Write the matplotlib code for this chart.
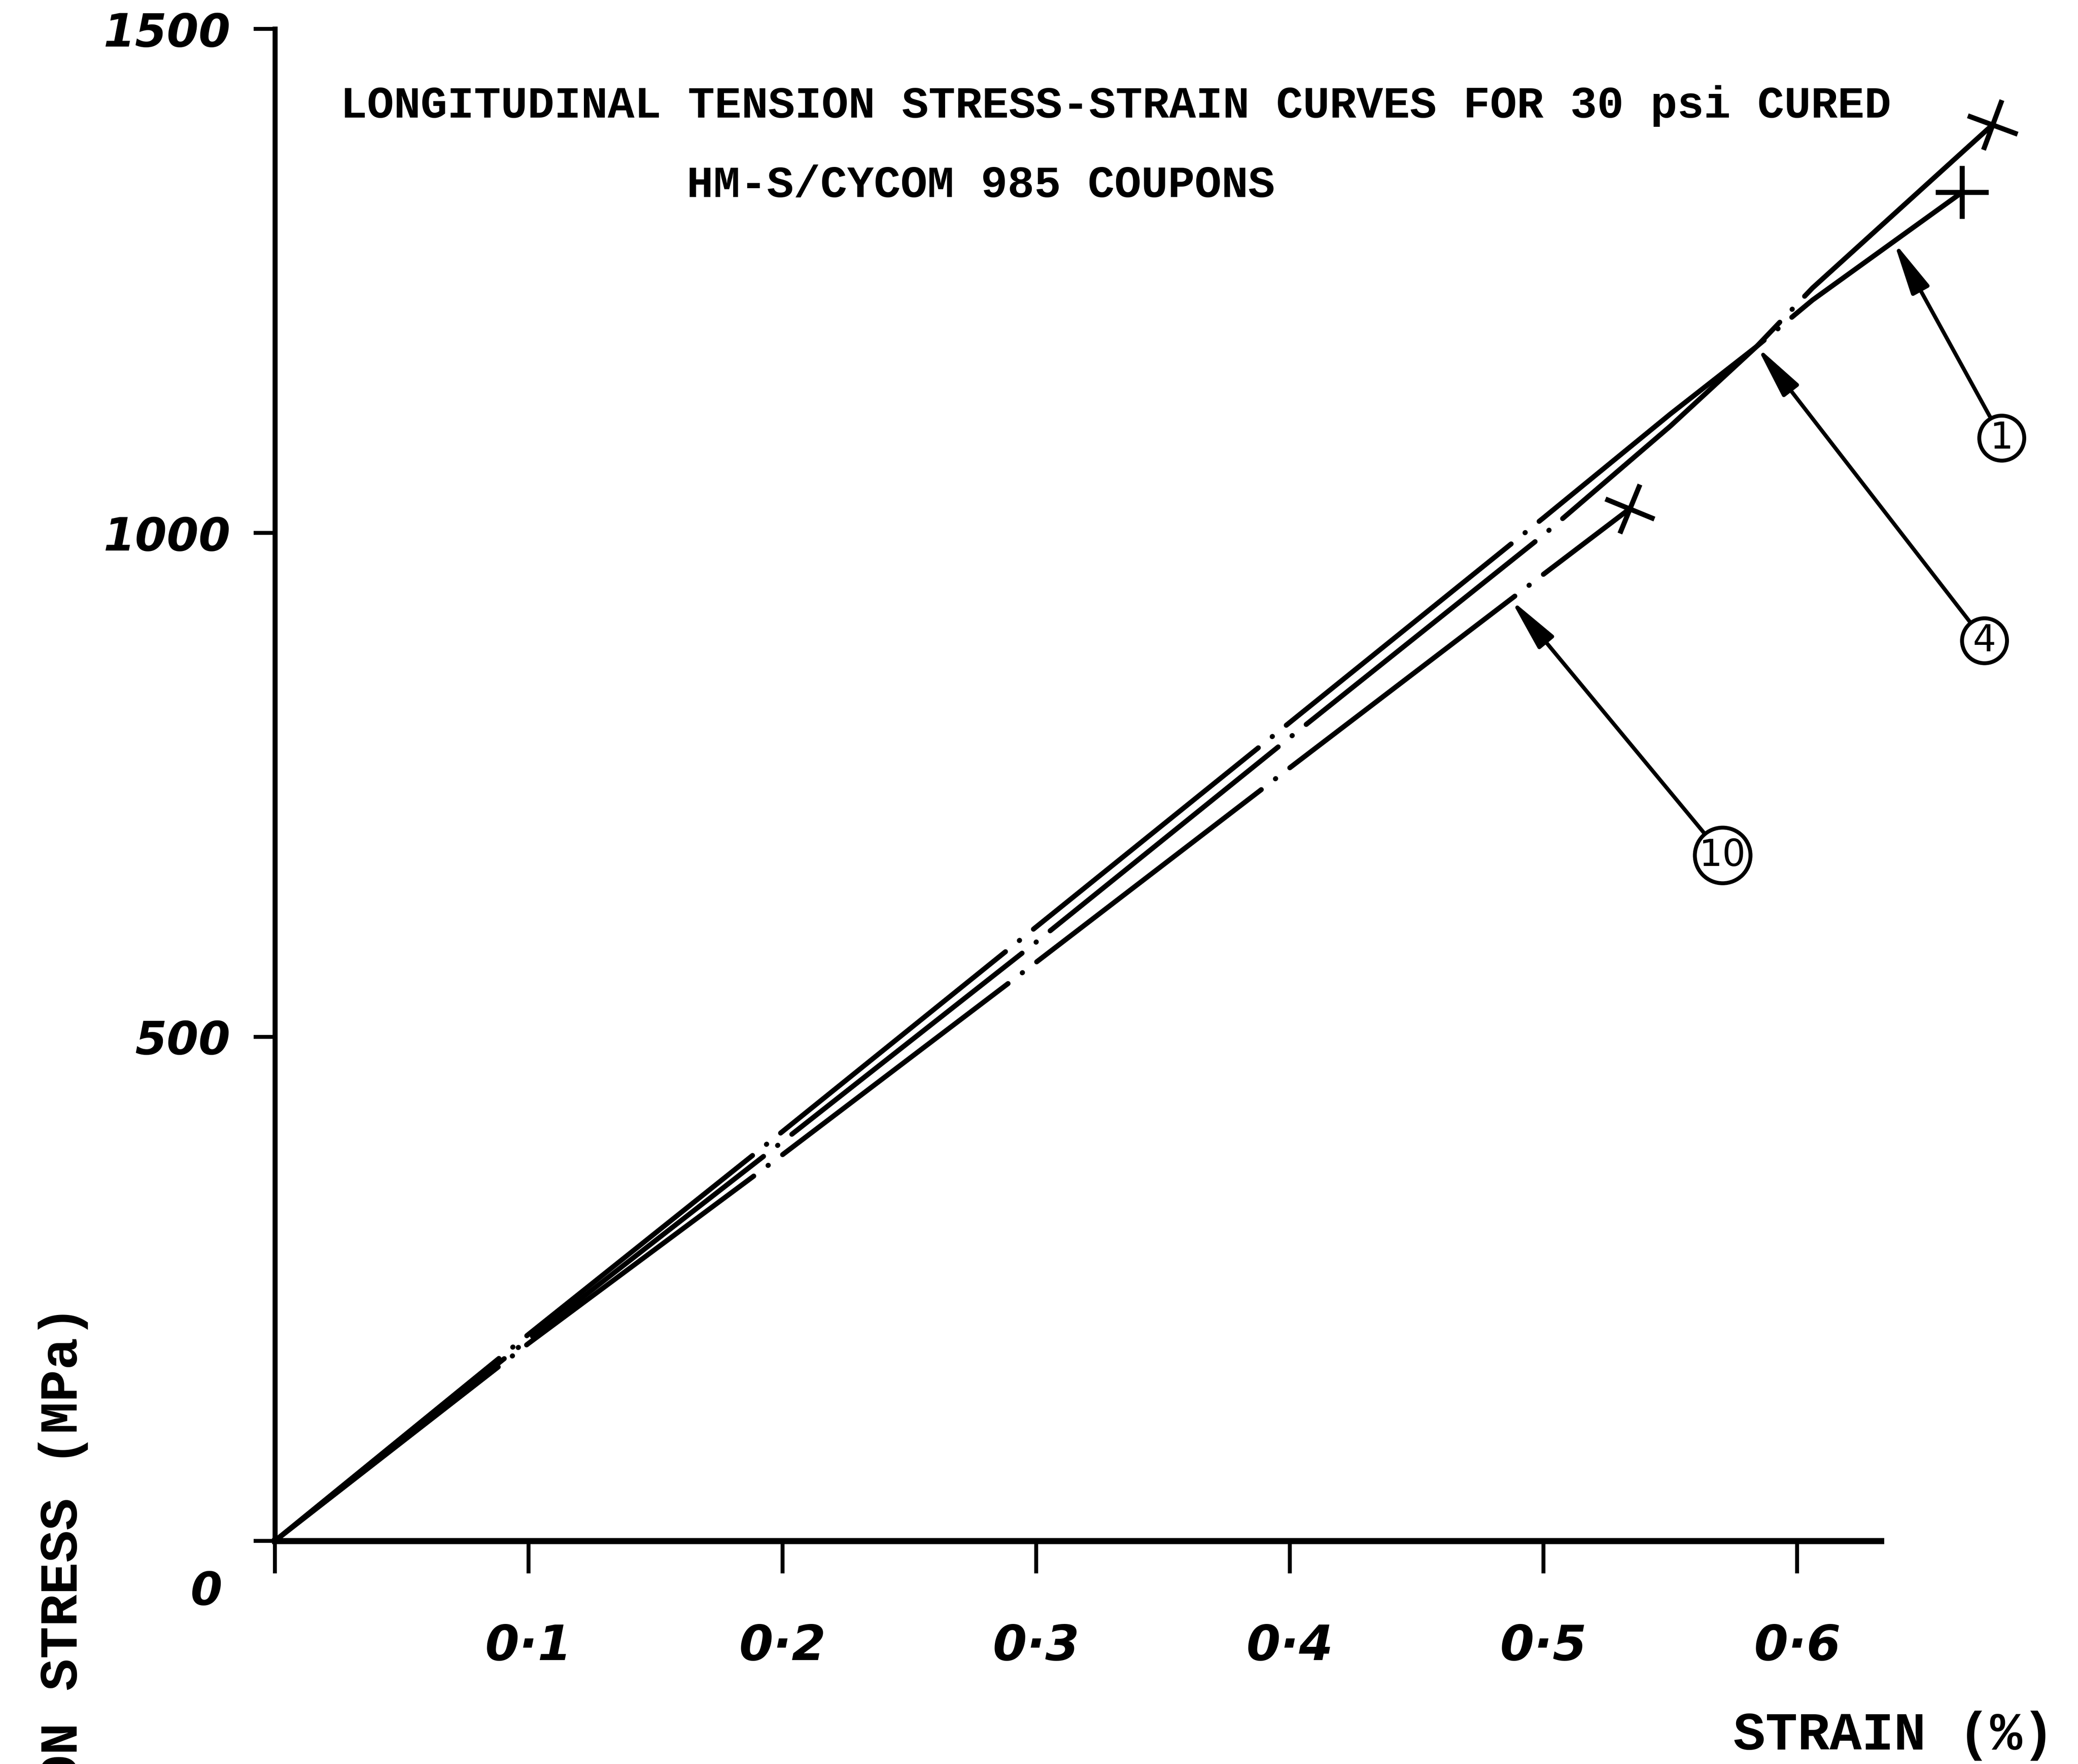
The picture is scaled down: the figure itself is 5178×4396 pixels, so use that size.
import matplotlib
matplotlib.use("Agg")
import matplotlib.pyplot as plt
import matplotlib.transforms as mtransforms
from matplotlib.markers import MarkerStyle
import numpy as np

# strain (%) and stress (MPa), one pair of lists per coupon
strain_1 = [0.0, 0.1, 0.2, 0.3, 0.4, 0.5, 0.55, 0.584, 0.606, 0.665]
stress_1 = [0, 205, 406, 609, 812, 1015, 1118, 1185, 1231, 1338]
strain_4 = [0.0, 0.1, 0.2, 0.3, 0.4, 0.5, 0.55, 0.584, 0.606, 0.677]
stress_4 = [0, 200, 396, 594, 797, 998, 1106, 1185, 1243, 1405]
strain_10 = [0.0, 0.1, 0.2, 0.3, 0.4, 0.5, 0.534]
stress_10 = [0, 196, 383, 574, 767, 959, 1024]

coupons = ["1", "4", "10"]
callout_strain = [0.638, 0.584, 0.487]      # where each arrow touches its curve
callout_label_x = [0.6806, 0.6738, 0.5706]  # circled number positions
callout_label_y = [1094, 893, 680]
failure_angle = [0, -20, -22]               # tilt of the failure cross

xticks = [0, 0.1, 0.2, 0.3, 0.4, 0.5, 0.6]
xticklabels = ["", "0·1", "0·2", "0·3", "0·4", "0·5", "0·6"]
yticks = [0, 500, 1000, 1500]
yticklabels = ["0", "500", "1000", "1500"]

title_1 = "LONGITUDINAL TENSION STRESS-STRAIN CURVES FOR 30 psi CURED"
title_2 = "HM-S/CYCOM 985 COUPONS"

typewriter = dict(family="Liberation Mono", weight="bold")
hand = dict(family="DejaVu Sans", style="italic", weight="bold")

fig = plt.figure(figsize=(51.78, 43.96), dpi=100)
ax = fig.add_axes([0.1323, 0.1265, 0.7729, 0.8571])
ax.set_xlim(0, 0.633)
ax.set_ylim(0, 1500)

ax.spines[["top", "right"]].set_visible(False)
ax.spines["left"].set_linewidth(9)
ax.spines["bottom"].set_linewidth(11)
ax.tick_params(axis="x", direction="out", length=58, width=7, pad=90)
ax.tick_params(axis="y", direction="out", length=38, width=7, pad=42)
ax.set_xticks(xticks, xticklabels, fontsize=88, **hand)
ax.set_yticks(yticks, yticklabels, fontsize=82, **hand)

LW = 9


def phantom_style(strain, stress):
    # long dash + dot, one period for every 0.1 % strain along the curve
    p0 = ax.transData.transform((0, 0))
    p1 = ax.transData.transform((0.1, stress[-1] / strain[-1] * 0.1))
    period = np.hypot(*(p1 - p0)) * 72 / fig.dpi
    gap, dot = 32.0, 0.5
    dash = period - 2 * gap - dot
    return (0, (dash / LW, gap / LW, dot / LW, gap / LW))


curves = [(strain_1, stress_1), (strain_4, stress_4), (strain_10, stress_10)]

for (strain, stress), angle in zip(curves, failure_angle):
    ax.plot(strain, stress, color="black", lw=LW,
            linestyle=phantom_style(strain, stress),
            dash_capstyle="round", solid_capstyle="round", clip_on=False)
    cross = MarkerStyle("+", transform=mtransforms.Affine2D().rotate_deg(angle))
    ax.plot(strain[-1], stress[-1], marker=cross, ms=95, mew=9,
            color="black", linestyle="none", clip_on=False)

for (strain, stress), lab, sx, lx, ly in zip(curves, coupons, callout_strain,
                                              callout_label_x, callout_label_y):
    ax.annotate(lab, xy=(sx, np.interp(sx, strain, stress)), xytext=(lx, ly),
                ha="center", va="center", fontsize=66, family="DejaVu Sans",
                bbox=dict(boxstyle="circle,pad=0.12", fc="white", ec="black", lw=7),
                arrowprops=dict(arrowstyle="-|>,head_length=1.6,head_width=0.3",
                                mutation_scale=50, lw=7, color="black",
                                shrinkA=0, shrinkB=0),
                annotation_clip=False)

fig.text(0.537, 0.940, title_1, fontsize=80, ha="center", va="center", **typewriter)
fig.text(0.472, 0.895, title_2, fontsize=80, ha="center", va="center", **typewriter)

ax.set_xlabel("STRAIN (%)", fontsize=96, va="center", **typewriter)
ax.xaxis.set_label_coords(0.9114, 0.016, transform=fig.transFigure)
ax.set_ylabel("TENSION STRESS (MPa)", fontsize=96, va="center", **typewriter)
ax.yaxis.set_label_coords(0.0305, 0.078, transform=fig.transFigure)

# the "0" sits below the corner, not beside it
zero = ax.yaxis.get_major_ticks()[0].label1
zero.set_transform(zero.get_transform()
                   + mtransforms.ScaledTranslation(-0.2, -1.16, fig.dpi_scale_trans))

fig.savefig("out.png", dpi=100, facecolor="white")
